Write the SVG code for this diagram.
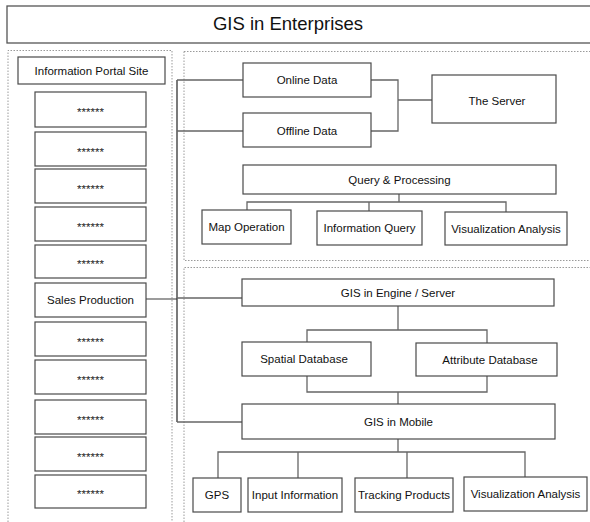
<svg xmlns="http://www.w3.org/2000/svg" width="590" height="522" viewBox="0 0 590 522">
<style>
  .bx{fill:#fff;stroke:#4a4a4a;stroke-width:1.2}
  .t{font-family:"Liberation Sans",Arial,sans-serif;font-size:11.5px;fill:#111;text-anchor:middle}
  .st{font-family:"Liberation Sans",Arial,sans-serif;font-size:11.5px;fill:#222;text-anchor:middle}
  .dot{fill:none;stroke:#9a9a9a;stroke-width:1;stroke-dasharray:1.5 1.5}
  .cn{fill:none;stroke:#666;stroke-width:1.3}
</style>
<rect width="590" height="522" fill="#fff"/>
<g id="title">
  <rect x="7" y="6" width="590" height="37" fill="#fff" stroke="#555" stroke-width="1.3"/>
  <text x="288" y="30" font-family="'Liberation Sans',Arial,sans-serif" font-size="18.5" fill="#111" text-anchor="middle">GIS in Enterprises</text>
</g>
<g id="panels">
  <path class="dot" d="M8,522 V50.5 H172 V522"/>
  <path class="dot" d="M184,522 V267.5 H590 M184,51.5 H590 M184,51.5 V260.5 H590"/>
</g>
<g id="connectors">
  <path class="cn" d="M146,299 H177"/>
  <path d="M177,80 V422" fill="none" stroke="#333" stroke-width="1.3"/>
  <path class="cn" d="M177,80 H243 M177,131 H243"/>
  <path class="cn" d="M371,80 H398 V131 H371 M398,100 H432"/>
  <path class="cn" d="M399,194 V202 M247,211 V202 H506 V212 M369,202 V211"/>
  <path class="cn" d="M177,298 H242"/>
  <path class="cn" d="M398,306 V330 M307,342 V330 H487 V343"/>
  <path class="cn" d="M307,376 V392 H487 V376 M398,392 V404"/>
  <path class="cn" d="M177,422 H242"/>
  <path class="cn" d="M398,439 V452 M218,478 V452 H525 V477 M298,452 V478 M407,452 V478"/>
</g>
<g id="portal"><rect class="bx" x="18" y="57" width="147" height="27"/><text class="t" x="91.5" y="74.5">Information Portal Site</text></g>
<g id="item1"><rect class="bx" x="35" y="92" width="111" height="35"/><text class="st" x="90.5" y="116">******</text></g>
<g id="item2"><rect class="bx" x="35" y="132" width="111" height="34"/><text class="st" x="90.5" y="155.5">******</text></g>
<g id="item3"><rect class="bx" x="35" y="169" width="111" height="34"/><text class="st" x="90.5" y="192.5">******</text></g>
<g id="item4"><rect class="bx" x="35" y="207" width="111" height="34"/><text class="st" x="90.5" y="230.5">******</text></g>
<g id="item5"><rect class="bx" x="35" y="245" width="111" height="33"/><text class="st" x="90.5" y="268">******</text></g>
<g id="sales"><rect class="bx" x="35" y="283" width="111" height="34"/><text class="t" x="90.5" y="303.5">Sales Production</text></g>
<g id="item7"><rect class="bx" x="35" y="322" width="111" height="34"/><text class="st" x="90.5" y="345.5">******</text></g>
<g id="item8"><rect class="bx" x="35" y="360" width="111" height="34"/><text class="st" x="90.5" y="383.5">******</text></g>
<g id="item9"><rect class="bx" x="35" y="400" width="111" height="34"/><text class="st" x="90.5" y="423.5">******</text></g>
<g id="item10"><rect class="bx" x="35" y="437" width="111" height="34"/><text class="st" x="90.5" y="460.5">******</text></g>
<g id="item11"><rect class="bx" x="35" y="475" width="111" height="33"/><text class="st" x="90.5" y="498">******</text></g>
<g id="online"><rect class="bx" x="243" y="63" width="128" height="34"/><text class="t" x="307" y="84">Online Data</text></g>
<g id="offline"><rect class="bx" x="243" y="113" width="128" height="34"/><text class="t" x="307" y="134.5">Offline Data</text></g>
<g id="server"><rect class="bx" x="432" y="75" width="124" height="48"/><text class="t" x="497" y="105">The Server</text></g>
<g id="query"><rect class="bx" x="243" y="165" width="313" height="29"/><text class="t" x="399.5" y="183.5">Query &amp; Processing</text></g>
<g id="mapop"><rect class="bx" x="202" y="210" width="89" height="34"/><text class="t" x="246.5" y="231">Map Operation</text></g>
<g id="infoquery"><rect class="bx" x="317" y="211" width="105" height="34"/><text class="t" x="369.5" y="232">Information Query</text></g>
<g id="visanalysis1"><rect class="bx" x="445" y="212" width="122" height="33"/><text class="t" x="506" y="232.5">Visualization Analysis</text></g>
<g id="engine"><rect class="bx" x="242" y="279" width="312" height="27"/><text class="t" x="398" y="296.5">GIS in Engine / Server</text></g>
<g id="spatial"><rect class="bx" x="242" y="342" width="129" height="34"/><text class="t" x="304" y="363">Spatial Database</text></g>
<g id="attribute"><rect class="bx" x="416" y="343" width="141" height="33"/><text class="t" x="490" y="363.5">Attribute Database</text></g>
<g id="mobile"><rect class="bx" x="242" y="404" width="313" height="35"/><text class="t" x="398.5" y="425.5">GIS in Mobile</text></g>
<g id="gps"><rect class="bx" x="193" y="478" width="48" height="34"/><text class="t" x="217" y="499">GPS</text></g>
<g id="input"><rect class="bx" x="248" y="478" width="94" height="34"/><text class="t" x="295" y="499">Input Information</text></g>
<g id="tracking"><rect class="bx" x="355" y="478" width="98" height="34"/><text class="t" x="404" y="499">Tracking Products</text></g>
<g id="visanalysis2"><rect class="bx" x="464" y="477" width="123" height="34"/><text class="t" x="525.5" y="498">Visualization Analysis</text></g>
</svg>
